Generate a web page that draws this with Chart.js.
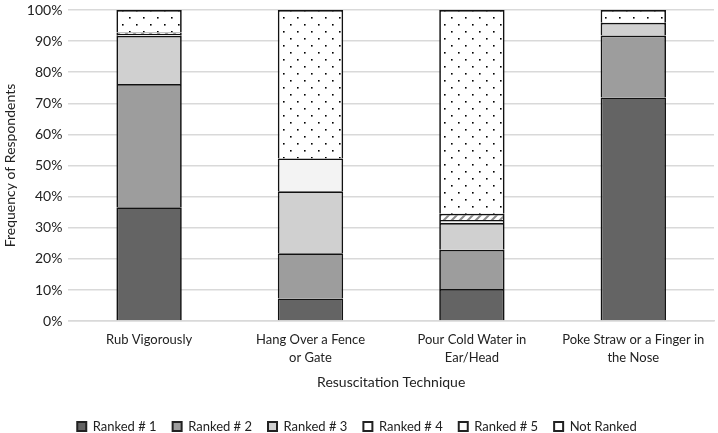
<!DOCTYPE html>
<html>
<head>
<meta charset="utf-8">
<script src="https://cdn.jsdelivr.net/npm/chart.js@4.4.0/dist/chart.umd.min.js"></script>
<style>
  html, body { margin: 0; padding: 0; background: #fff; overflow: hidden; }
  #wrap { width: 718px; height: 443px; }
</style>
</head>
<body>
<div id="wrap"><canvas id="rankChart"></canvas></div>
<script>
// Datos (porcentaje de encuestados)
const techniques = [
    'Rub Vigorously',
    ['Hang Over a Fence', 'or Gate'],
    ['Pour Cold Water in', 'Ear/Head'],
    ['Poke Straw or a Finger in', 'the Nose']
];
const ranked1 = [36.6, 7.3, 10.3, 71.9];
const ranked2 = [39.6, 14.5, 12.6, 19.9];
const ranked3 = [15.5, 19.9, 8.6, 4.1];
const ranked4 = [0.6, 10.6, 1.0, 0];
const ranked5 = [0.5, 0, 2.0, 0];
const notRanked = [7.2, 47.7, 65.5, 4.1];
const yTicks = [0, 10, 20, 30, 40, 50, 60, 70, 80, 90, 100];

// Patrones: puntos y rayas diagonales
function dotPattern() {
    const c = document.createElement('canvas');
    c.width = 14; c.height = 14;
    const g = c.getContext('2d');
    g.fillStyle = '#fff';
    g.fillRect(0, 0, 14, 14);
    g.fillStyle = '#000';
    g.fillRect(3, 3, 1.6, 1.6);
    g.fillRect(10, 10, 1.6, 1.6);
    return g.createPattern(c, 'repeat');
}

function hatchPattern() {
    const c = document.createElement('canvas');
    c.width = 8; c.height = 8;
    const g = c.getContext('2d');
    g.fillStyle = '#fff';
    g.fillRect(0, 0, 8, 8);
    g.strokeStyle = '#8a8a8a';
    g.lineWidth = 2;
    g.beginPath();
    g.moveTo(0, 8); g.lineTo(8, 0);
    g.moveTo(-4, 4); g.lineTo(4, -4);
    g.moveTo(4, 12); g.lineTo(12, 4);
    g.stroke();
    return g.createPattern(c, 'repeat');
}

const font = "'Lato', 'Open Sans', sans-serif";

function serie(label, data, color) {
    return {
        label: label,
        data: data,
        backgroundColor: color,
        borderColor: '#111',
        borderWidth: 1.7,
        categoryPercentage: 0.405,
        barPercentage: 1
    };
}

const ctx = document.getElementById('rankChart').getContext('2d');
const rankChart = new Chart(ctx, {
    type: 'bar',
    data: {
        labels: techniques,
        datasets: [
            serie('Ranked # 1', ranked1, '#646464'),
            serie('Ranked # 2', ranked2, '#9d9d9d'),
            serie('Ranked # 3', ranked3, '#d0d0d0'),
            serie('Ranked # 4', ranked4, '#f3f3f3'),
            serie('Ranked # 5', ranked5, hatchPattern()),
            serie('Not Ranked', notRanked, dotPattern())
        ]
    },
    options: {
        responsive: true,
        maintainAspectRatio: false,
        animation: false,
        layout: { padding: { top: 10, right: 4, left: 0, bottom: 0 } },
        scales: {
            x: {
                stacked: true,
                grid: { display: false },
                border: { color: '#d9d9d9', width: 1.5 },
                ticks: { color: '#222', font: { family: font, size: 13, lineHeight: 1.35 }, maxRotation: 0, autoSkip: false, padding: 2 },
                title: { display: true, text: 'Resuscitation Technique', color: '#222', font: { family: font, size: 14 }, padding: { top: 6, bottom: 13 } }
            },
            y: {
                stacked: true,
                min: 0,
                max: 100,
                afterBuildTicks: axis => { axis.ticks = yTicks.map(v => ({ value: v })); },
                afterFit: axis => { axis.paddingTop = 0; },
                grid: { color: '#d9d9d9', lineWidth: 1.5, drawTicks: false },
                border: { display: false },
                ticks: { color: '#222', font: { family: font, size: 14 }, padding: 6, callback: v => v + '%' },
                title: { display: true, text: 'Frequency of Respondents', color: '#222', font: { family: font, size: 14 }, padding: { top: 2, bottom: 2 } }
            }
        },
        plugins: {
            legend: {
                position: 'bottom',
                labels: {
                    color: '#222',
                    font: { family: font, size: 13 },
                    boxWidth: 9,
                    boxHeight: 9,
                    padding: 16,
                    generateLabels: chart => {
                        const items = Chart.defaults.plugins.legend.labels.generateLabels(chart);
                        items.forEach((it, i) => {
                            if (i >= 3) it.fillStyle = '#fff';
                            it.strokeStyle = '#222';
                            it.lineWidth = 2;
                        });
                        return items;
                    }
                }
            },
            tooltip: { enabled: false }
        }
    }
});
</script>
</body>
</html>
